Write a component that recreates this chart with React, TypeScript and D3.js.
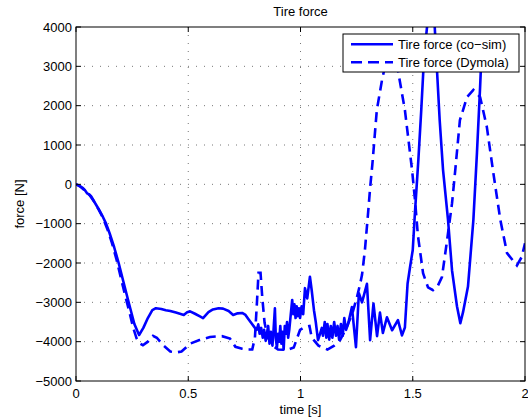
import React from "react";
import * as d3 from "d3";

const W = 528;
const H = 419;

const xTicks = [0, 0.5, 1, 1.5, 2];
const xTickLabels = ["0", "0.5", "1", "1.5", "2"];
const yTicks = [-5000, -4000, -3000, -2000, -1000, 0, 1000, 2000, 3000, 4000];
const yTickLabels = ["−5000", "−4000", "−3000", "−2000", "−1000", "0", "1000", "2000", "3000", "4000"];

const seriesNames = ["Tire force (co−sim)", "Tire force (Dymola)"];

const coSimT = [
  0, 0.01, 0.02, 0.03, 0.04, 0.05, 0.06, 0.067, 0.08, 0.1, 0.12, 0.134, 0.15, 0.17, 0.19, 0.21, 0.236, 0.26, 0.281,
  0.3, 0.32, 0.34, 0.356, 0.38, 0.4, 0.42, 0.445, 0.463, 0.48, 0.495, 0.508, 0.53, 0.55, 0.566, 0.59, 0.61, 0.635,
  0.655, 0.68, 0.7, 0.72, 0.74, 0.755, 0.766, 0.78, 0.797, 0.805, 0.812, 0.818, 0.825, 0.832, 0.838, 0.845, 0.85,
  0.856, 0.862, 0.868, 0.875, 0.88, 0.886, 0.89, 0.895, 0.9, 0.905, 0.91, 0.915, 0.92, 0.925, 0.93, 0.935, 0.94,
  0.945, 0.95, 0.955, 0.963, 0.968, 0.973, 0.978, 0.983, 0.988, 0.993, 0.998, 1.005, 1.012, 1.02, 1.03, 1.042, 1.05,
  1.06, 1.068, 1.078, 1.087, 1.095, 1.1, 1.108, 1.115, 1.12, 1.128, 1.135, 1.142, 1.15, 1.158, 1.165, 1.172, 1.18,
  1.188, 1.195, 1.203, 1.212, 1.229, 1.247, 1.26, 1.274, 1.296, 1.31, 1.325, 1.341, 1.354, 1.367, 1.385, 1.408,
  1.434, 1.452, 1.465, 1.477, 1.488, 1.5, 1.51, 1.525, 1.538, 1.55, 1.567, 1.584, 1.597, 1.608, 1.62, 1.635, 1.657,
  1.675, 1.697, 1.712, 1.724, 1.746, 1.77, 1.786, 1.8, 1.81,
];
const coSimF = [
  0, -20, -60, -90, -150, -230, -260, -300, -430, -620, -830, -1000, -1250, -1600, -2000, -2450, -3030, -3550, -3830,
  -3650, -3400, -3200, -3150, -3170, -3200, -3220, -3260, -3290, -3320, -3250, -3230, -3290, -3350, -3400, -3250,
  -3180, -3150, -3160, -3220, -3320, -3280, -3270, -3320, -3410, -3520, -3650, -3700, -3560, -3800, -3650, -3900,
  -3700, -3980, -3800, -3600, -4050, -3750, -4100, -3700, -3150, -3900, -4150, -3800, -4000, -3600, -4050, -3750,
  -4200, -3600, -3800, -3500, -3900, -3700, -3400, -2940, -3300, -3050, -3400, -3100, -3350, -3150, -3400, -3100,
  -3300, -2640, -2900, -2350, -2700, -3200, -3500, -3960, -3800, -3650, -3850, -3500, -3900, -3550, -3950, -3600,
  -3900, -3500, -3850, -3600, -3950, -3550, -3850, -3400, -3700, -3550, -3120, -4140, -2770, -3000, -2530, -3960,
  -3030, -3860, -3260, -3780, -3380, -3710, -3450, -3840, -3640, -2520, -2100, -1670, -700, 620, 1900, 3200, 4200,
  5000, 4100, 2900, 1630, 360, -900, -2190, -3100, -3530, -3250, -2600, -910, 800, 2470, 3800, 4500,
];

const dymolaT = [
  0, 0.02, 0.04, 0.06, 0.08, 0.1, 0.12, 0.14, 0.16, 0.18, 0.2, 0.22, 0.236, 0.255, 0.27, 0.285, 0.298, 0.32, 0.343,
  0.36, 0.39, 0.42, 0.45, 0.47, 0.49, 0.508, 0.55, 0.597, 0.65, 0.686, 0.71, 0.74, 0.765, 0.785, 0.797, 0.806, 0.813,
  0.822, 0.83, 0.84, 0.855, 0.875, 0.9, 0.94, 0.97, 0.998, 1.02, 1.04, 1.05, 1.08, 1.12, 1.15, 1.176, 1.2, 1.23, 1.25,
  1.265, 1.274, 1.287, 1.3, 1.31, 1.32, 1.34, 1.363, 1.376, 1.4, 1.42, 1.434, 1.465, 1.497, 1.51, 1.523, 1.546, 1.568,
  1.59, 1.61, 1.63, 1.653, 1.675, 1.69, 1.71, 1.742, 1.77, 1.8, 1.83, 1.857, 1.89, 1.92, 1.964, 1.985, 2.0,
];
const dymolaF = [
  0, -60, -160, -270, -430, -630, -850, -1140, -1490, -1900, -2380, -2850, -3200, -3650, -3920, -4050, -4090, -4000,
  -3850, -3900, -4100, -4250, -4270, -4250, -4150, -4050, -3960, -3880, -3860, -3920, -4130, -4180, -4200, -4200,
  -3900, -3000, -2250, -2250, -2900, -3520, -3900, -4100, -4200, -4210, -4150, -3700, -3620, -3600, -3900, -4100,
  -4200, -4100, -3960, -3700, -3300, -2900, -2550, -2300, -1670, -800, -100, 500, 1890, 2650, 2990, 3300, 3200, 2900,
  1890, 360, -400, -1300, -2260, -2620, -2690, -2600, -2360, -1420, -480, 400, 1630, 2220, 2400, 2220, 1460, 365,
  -900, -1750, -2060, -1850, -1500,
];

const x0 = 76;
const x1 = 525;
const yTop = 27;
const yBot = 381;

export default function App() {
  const x = d3.scaleLinear().domain([0, 2]).range([x0, x1]);
  const y = d3.scaleLinear().domain([-5000, 4000]).range([yBot, yTop]);
  const line = d3
    .line<[number, number]>()
    .x((d) => x(d[0]))
    .y((d) => y(d[1]));
  const coSim: [number, number][] = coSimT.map((t, i) => [t, coSimF[i]]);
  const dymola: [number, number][] = dymolaT.map((t, i) => [t, dymolaF[i]]);
  const font = "'Liberation Sans', Arial, Helvetica, sans-serif";
  const tick = 5;
  const blue = "#0000ff";
  const lw = 2.6;

  return (
    <svg
      width={W}
      height={H}
      style={{ position: "absolute", left: 0, top: 0, background: "#fff" }}
      fontFamily={font}
    >
      <rect x={0} y={0} width={W} height={H} fill="#fff" />
      <defs>
        <clipPath id="plotclip">
          <rect x={x0} y={yTop} width={x1 - x0} height={yBot - yTop} />
        </clipPath>
      </defs>
      {xTicks.slice(1, -1).map((t) => (
        <line key={"gx" + t} x1={x(t)} x2={x(t)} y1={yTop} y2={yBot} stroke="#777" strokeWidth={1} strokeDasharray="1,7" />
      ))}
      {yTicks.slice(1, -1).map((v) => (
        <line key={"gy" + v} x1={x0} x2={x1} y1={y(v)} y2={y(v)} stroke="#777" strokeWidth={1} strokeDasharray="1,7" />
      ))}
      <g clipPath="url(#plotclip)">
        <path d={line(dymola) || ""} fill="none" stroke={blue} strokeWidth={lw} strokeDasharray="10,6" />
        <path d={line(coSim) || ""} fill="none" stroke={blue} strokeWidth={lw} strokeLinejoin="round" />
      </g>
      <rect x={x0} y={yTop} width={x1 - x0} height={yBot - yTop} fill="none" stroke="#000" strokeWidth={1} />
      {xTicks.map((t, i) => (
        <g key={"xt" + t}>
          <line x1={x(t)} x2={x(t)} y1={yBot} y2={yBot - tick} stroke="#000" />
          <line x1={x(t)} x2={x(t)} y1={yTop} y2={yTop + tick} stroke="#000" />
          <text x={x(t)} y={398} textAnchor="middle" fontSize={13} fill="#000">
            {xTickLabels[i]}
          </text>
        </g>
      ))}
      {yTicks.map((v, i) => (
        <g key={"yt" + v}>
          <line x1={x0} x2={x0 + tick} y1={y(v)} y2={y(v)} stroke="#000" />
          <line x1={x1} x2={x1 - tick} y1={y(v)} y2={y(v)} stroke="#000" />
          <text x={72} y={y(v) + 4.5} textAnchor="end" fontSize={13} fill="#000">
            {yTickLabels[i]}
          </text>
        </g>
      ))}
      <text x={(x0 + x1) / 2} y={16} textAnchor="middle" fontSize={13} fill="#000">
        Tire force
      </text>
      <text x={(x0 + x1) / 2} y={414} textAnchor="middle" fontSize={13} fill="#000">
        time [s]
      </text>
      <text
        transform={`translate(24,${(yTop + yBot) / 2}) rotate(-90)`}
        textAnchor="middle"
        fontSize={13}
        fill="#000"
      >
        force [N]
      </text>
      <rect x={343} y={34} width={176} height={38} fill="#fff" stroke="#000" strokeWidth={1} />
      <line x1={351} x2={393} y1={44.3} y2={44.3} stroke={blue} strokeWidth={lw} />
      <line x1={351} x2={393} y1={62.3} y2={62.3} stroke={blue} strokeWidth={lw} strokeDasharray="11,6" />
      <text x={398} y={48.8} fontSize={13} fill="#000">
        {seriesNames[0]}
      </text>
      <text x={398} y={66.8} fontSize={13} fill="#000">
        {seriesNames[1]}
      </text>
    </svg>
  );
}
